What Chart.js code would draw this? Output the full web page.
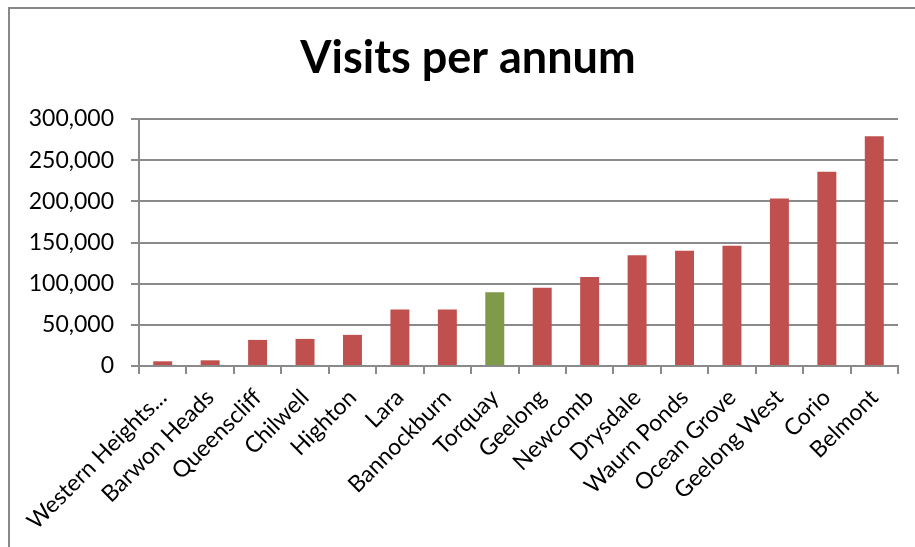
<!DOCTYPE html>
<html>
<head>
<meta charset="utf-8">
<script src="https://cdn.jsdelivr.net/npm/chart.js@4.4.1/dist/chart.umd.min.js"></script>
<style>
  html, body { margin: 0; padding: 0; background: #ffffff; }
  #wrap { position: absolute; left: 0; top: 0; width: 915px; height: 547px; }
</style>
</head>
<body>
<div id="wrap"><canvas id="c" width="915" height="547"></canvas></div>
<script>
// ---- data ----
const categories = ["Western Heights...", "Barwon Heads", "Queenscliff", "Chilwell", "Highton", "Lara",
  "Bannockburn", "Torquay", "Geelong", "Newcomb", "Drysdale", "Waurn Ponds", "Ocean Grove",
  "Geelong West", "Corio", "Belmont"];
const visits = [5700, 6900, 31700, 32900, 37800, 68600, 68600, 89700, 95000, 108000, 134400,
  140000, 146000, 203400, 235900, 278900];
const yTicks = [0, 50000, 100000, 150000, 200000, 250000, 300000];
const highlighted = "Torquay";

const RED = "#C0504D";
const GREEN = "#7F9A48";
const GRID = "#8a8a8a";
const FONT = "Lato, 'Liberation Sans', sans-serif";

const framePlugin = {
  id: "frame",
  afterLayout(chart) {
    // shift the title block so its centre sits like the original's
    if (chart.titleBlock) {
      chart.titleBlock.left += 19;
      chart.titleBlock.right += 19;
    }
  },
  beforeDraw(chart) {
    const ctx = chart.ctx;
    ctx.save();
    ctx.fillStyle = "#ffffff";
    ctx.fillRect(0, 0, chart.width, chart.height);
    ctx.fillStyle = "#888888";
    ctx.fillRect(8, 7, 2, chart.height - 7);
    ctx.fillRect(8, 7, chart.width - 8, 2);
    ctx.restore();
  }
};

new Chart(document.getElementById("c"), {
  type: "bar",
  data: {
    labels: categories,
    datasets: [{
      data: visits,
      backgroundColor: (c) => categories[c.dataIndex] === highlighted ? GREEN : RED,
      borderWidth: 0,
      categoryPercentage: 1.0,
      barPercentage: 0.4
    }]
  },
  options: {
    responsive: false,
    animation: false,
    devicePixelRatio: 1,
    layout: { padding: { left: 0, right: 17, top: 0, bottom: 0 } },
    plugins: {
      legend: { display: false },
      tooltip: { enabled: false },
      title: {
        display: true,
        text: "Visits per annum",
        color: "#000000",
        font: { family: FONT, size: 45, weight: "bold", lineHeight: 1.2 },
        padding: { top: 31, bottom: 34 }
      }
    },
    scales: {
      x: {
        offset: true,
        grid: {
          display: true,
          drawOnChartArea: false,
          drawTicks: true,
          tickLength: 8,
          offset: true,
          color: GRID,
          lineWidth: 2
        },
        border: { display: true, color: GRID, width: 2 },
        ticks: {
          color: "#000000",
          font: { family: FONT, size: 23 },
          maxRotation: 45,
          minRotation: 45,
          autoSkip: false,
          padding: 10
        },
        afterFit(scale) { scale.height = 181; }
      },
      y: {
        min: 0,
        max: 300000,
        afterBuildTicks(scale) { scale.ticks = yTicks.map(v => ({ value: v })); },
        grid: {
          color: GRID,
          lineWidth: 2,
          drawTicks: true,
          tickLength: 8
        },
        border: { display: true, color: GRID, width: 2 },
        ticks: {
          color: "#000000",
          font: { family: FONT, size: 23 },
          padding: 17,
          callback: (v) => Number(v).toLocaleString("en-US")
        },
        afterFit(scale) { scale.width = 139; }
      }
    }
  },
  plugins: [framePlugin]
});
</script>
</body>
</html>
